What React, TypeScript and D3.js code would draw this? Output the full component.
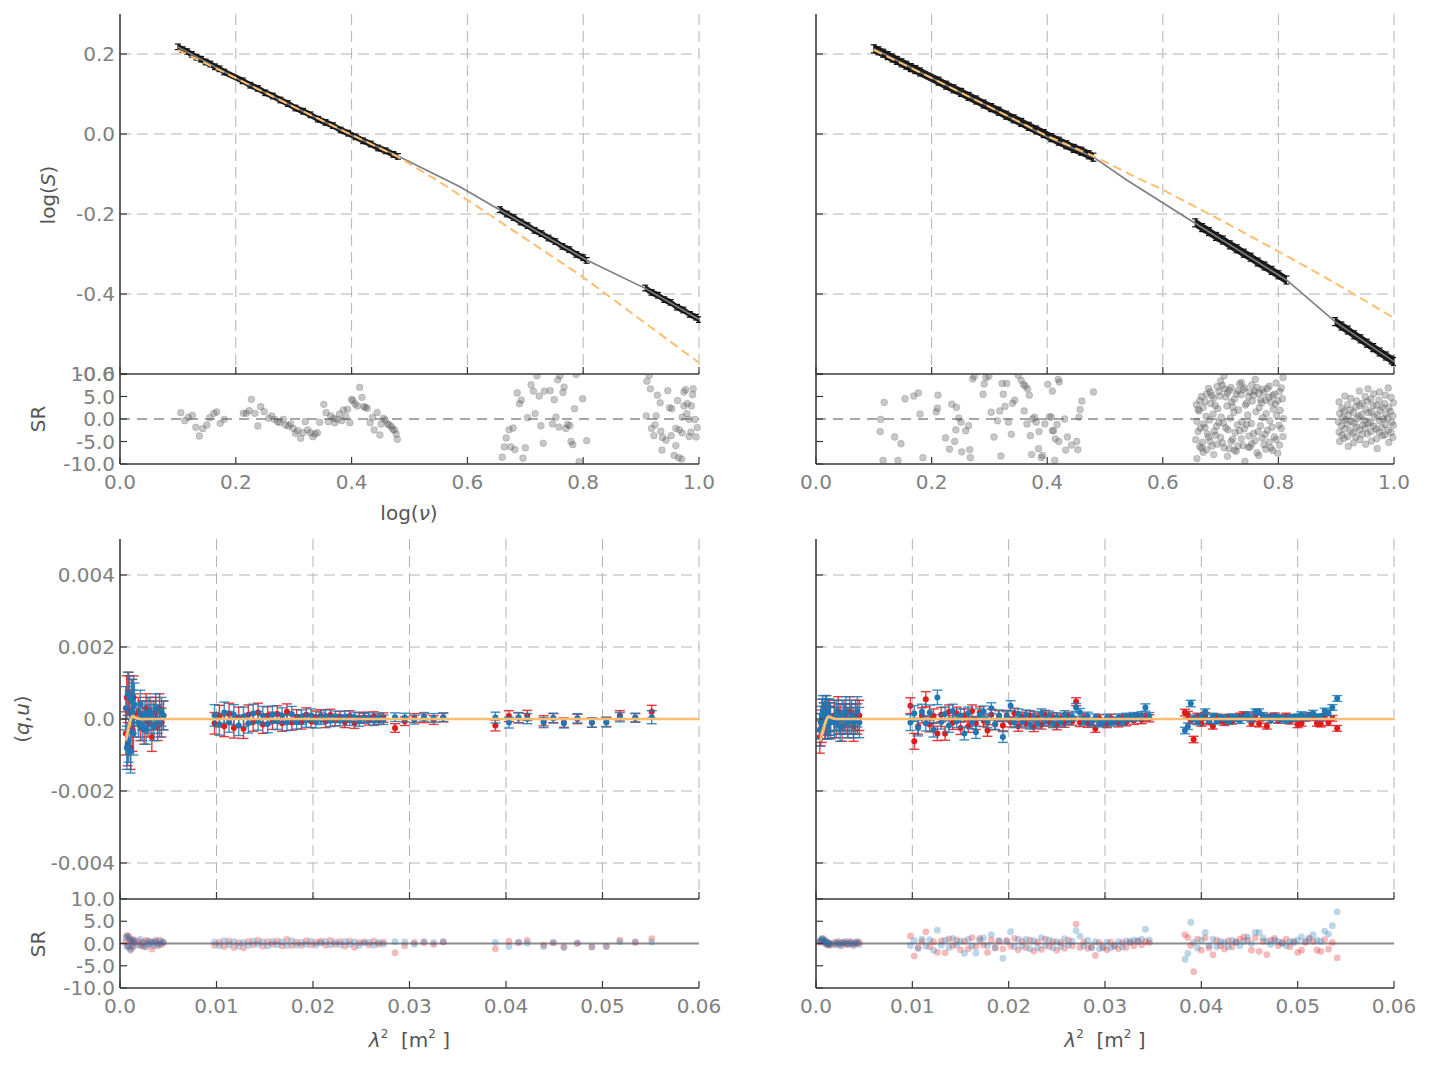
import * as d3 from 'd3';

// ---------- axis ticks ----------
const nuTicks = [0, 0.2, 0.4, 0.6, 0.8, 1.0];
const nuTickLabels = ['0.0', '0.2', '0.4', '0.6', '0.8', '1.0'];
const logSTicks = [0.2, 0.0, -0.2, -0.4, -0.6];
const logSTickLabels = ['0.2', '0.0', '-0.2', '-0.4', '-0.6'];
const srTicks = [10, 5, 0, -5, -10];
const srTickLabels = ['10.0', '5.0', '0.0', '-5.0', '-10.0'];
const lam2Ticks = [0, 0.01, 0.02, 0.03, 0.04, 0.05, 0.06];
const lam2TickLabels = ['0.0', '0.01', '0.02', '0.03', '0.04', '0.05', '0.06'];
const quTicks = [0.004, 0.002, 0, -0.002, -0.004];
const quTickLabels = ['0.004', '0.002', '0.0', '-0.002', '-0.004'];

// ---------- Stokes I spectrum, left fit ----------
const nuFluxL = [0.100, 0.108, 0.116, 0.124, 0.132, 0.140, 0.148, 0.156, 0.164, 0.172, 0.180,
  0.212, 0.225, 0.238, 0.251, 0.264, 0.277, 0.290, 0.303, 0.316, 0.329, 0.342, 0.355, 0.368, 0.381, 0.394, 0.407, 0.420, 0.433, 0.446, 0.459, 0.472, 0.480,
  0.656, 0.668, 0.680, 0.692, 0.704, 0.716, 0.728, 0.740, 0.752, 0.764, 0.776, 0.788, 0.800, 0.806,
  0.907, 0.918, 0.929, 0.940, 0.951, 0.962, 0.973, 0.984, 0.995, 1.000];
const logSFluxL = [0.218, 0.211, 0.206, 0.199, 0.192, 0.187, 0.180, 0.175, 0.168, 0.163, 0.155,
  0.133, 0.122, 0.114, 0.103, 0.095, 0.085, 0.076, 0.065, 0.057, 0.048, 0.037, 0.029, 0.021, 0.010, 0.002, -0.007, -0.017, -0.025, -0.035, -0.042, -0.051, -0.056,
  -0.189, -0.200, -0.209, -0.220, -0.229, -0.241, -0.249, -0.260, -0.269, -0.281, -0.289, -0.301, -0.309, -0.316,
  -0.385, -0.396, -0.403, -0.414, -0.421, -0.433, -0.440, -0.451, -0.458, -0.464];
const errFluxL = 0.007;
const modelNuL = [0.1, 0.2, 0.3, 0.4, 0.48, 0.587, 0.656, 0.806, 0.907, 1.0];
const modelLogSL = [0.2175, 0.14, 0.068, -0.003, -0.055, -0.132, -0.19, -0.315, -0.386, -0.463];
const altNuL = [0.1, 0.2, 0.3, 0.4, 0.48, 0.55, 0.622, 0.8, 1.0];
const altLogSL = [0.21, 0.14, 0.068, -0.002, -0.057, -0.118, -0.186, -0.358, -0.572];

const resL1: [number, number][] = [
  [0.105, 1.41], [0.112, -0.37], [0.118, 0.37], [0.125, 0.81], [0.131, -1.85], [0.137, -3.78], [0.143, -2.15], [0.150, -1.33],
  [0.155, 0.30], [0.162, 1.26], [0.167, 1.56], [0.173, -0.96], [0.180, -0.07],
  [0.213, 1.26], [0.218, 1.26], [0.223, 1.85], [0.227, 4.37], [0.233, 1.26], [0.238, -1.56], [0.243, 2.74], [0.249, 1.63],
  [0.257, 0.15], [0.262, 0.67], [0.267, -0.07], [0.272, -0.59], [0.276, -0.81], [0.282, -0.07], [0.286, -1.33], [0.291, -1.56],
  [0.295, -1.11], [0.299, -2.07], [0.303, -3.19], [0.307, -2.59], [0.312, -4.30], [0.316, -3.04], [0.320, -0.59], [0.324, -2.44],
  [0.329, -3.04], [0.333, -3.93], [0.337, -3.33], [0.341, -3.04], [0.345, -0.74],
  [0.352, 3.26], [0.356, 1.41], [0.360, -0.59], [0.364, 0.67], [0.369, 0.15], [0.371, -0.81], [0.375, -0.07], [0.379, 1.11],
  [0.383, -0.37], [0.386, 2.00], [0.390, 0.52], [0.393, 2.15], [0.397, -0.81],
  [0.400, 4.37], [0.402, 4.07], [0.406, 3.33], [0.410, 2.89], [0.414, 7.04], [0.418, 4.81], [0.421, 2.74], [0.424, 2.59],
  [0.427, 2.37], [0.432, -0.81], [0.436, 0.37], [0.439, -2.44], [0.444, 1.41], [0.449, -3.56], [0.451, -1.11], [0.455, 0.15],
  [0.458, -0.22], [0.462, -1.11], [0.465, -1.33], [0.469, -1.70], [0.471, -2.30], [0.474, -2.44], [0.477, -3.33], [0.479, -4.52],
];
const resL2: [number, number][] = [
  [0.720, 9.6], [0.760, 9.6], [0.788, 9.9], [0.710, 7.6], [0.686, 5.8], [0.714, 6.2], [0.724, 5.1], [0.733, 6.2], [0.743, 6.3],
  [0.750, 4.3], [0.756, 8.7], [0.765, 5.9], [0.767, 7.1], [0.690, 3.4], [0.693, 4.2], [0.799, 4.5], [0.785, 2.3], [0.704, 0.3],
  [0.717, 1.2], [0.753, 0.4], [0.672, -2.4], [0.679, -2.0], [0.727, -1.5], [0.747, -1.1], [0.758, -1.8], [0.770, -2.1],
  [0.773, -1.2], [0.777, -1.5], [0.667, -4.2], [0.779, -5.0], [0.782, -5.7], [0.806, -4.8], [0.731, -5.4], [0.664, -6.2],
  [0.675, -6.2], [0.682, -6.8], [0.700, -6.4], [0.660, -8.5], [0.696, -8.7], [0.793, -9.5],
];
const resL3: [number, number][] = [
  [0.914, 9.7], [0.910, 8.4], [0.916, 6.7], [0.928, 5.3], [0.933, 3.6], [0.946, 6.3], [0.963, 4.1], [0.974, 6.0], [0.977, 6.5],
  [0.990, 6.7], [0.989, 5.4], [0.949, 2.5], [0.953, 2.3], [0.974, 2.9], [0.980, 3.4], [0.987, 2.9], [0.979, 1.2], [0.909, 0.7],
  [0.926, 0.7], [0.971, 0.4], [0.983, -0.1], [0.993, -0.1], [0.918, -2.1], [0.924, -1.3], [0.934, -2.7], [0.960, -2.1],
  [0.966, -2.4], [0.971, -3.1], [0.986, -2.9], [0.997, -1.9], [0.922, -3.7], [0.937, -4.1], [0.943, -4.7], [0.952, -3.7],
  [0.983, -3.9], [0.995, -4.0], [0.936, -6.9], [0.960, -5.9], [0.957, -8.1], [0.965, -8.6], [0.970, -8.9],
];

// ---------- Stokes I spectrum, right fit ----------
const nuFluxR = [0.100, 0.108, 0.116, 0.124, 0.132, 0.140, 0.148, 0.156, 0.164, 0.172, 0.180,
  0.212, 0.225, 0.238, 0.251, 0.264, 0.277, 0.290, 0.303, 0.316, 0.329, 0.342, 0.355, 0.368, 0.381, 0.394, 0.407, 0.420, 0.433, 0.446, 0.459, 0.472, 0.480,
  0.656, 0.668, 0.680, 0.692, 0.704, 0.716, 0.728, 0.740, 0.752, 0.764, 0.776, 0.788, 0.800, 0.814,
  0.898, 0.909, 0.920, 0.931, 0.942, 0.953, 0.964, 0.975, 0.986, 0.996, 1.000];
const logSFluxR = [0.213, 0.208, 0.202, 0.196, 0.190, 0.184, 0.178, 0.172, 0.166, 0.161, 0.155,
  0.132, 0.122, 0.113, 0.104, 0.094, 0.085, 0.075, 0.066, 0.057, 0.047, 0.038, 0.029, 0.019, 0.010, 0.001, -0.009, -0.018, -0.027, -0.036, -0.043, -0.052, -0.058,
  -0.222, -0.234, -0.244, -0.256, -0.265, -0.277, -0.287, -0.298, -0.308, -0.320, -0.330, -0.341, -0.352, -0.365,
  -0.469, -0.480, -0.490, -0.502, -0.512, -0.523, -0.534, -0.545, -0.555, -0.565, -0.569];
const errFluxR = 0.01;
const modelNuR = [0.1, 0.2, 0.3, 0.4, 0.48, 0.5375, 0.656, 0.814, 0.898, 1.0];
const modelLogSR = [0.213, 0.14, 0.068, -0.007, -0.058, -0.115, -0.223, -0.365, -0.469, -0.569];
const altNuR = [0.1, 0.2, 0.3, 0.4, 0.48, 0.549, 0.601, 0.70, 0.803, 0.895, 1.0];
const altLogSR = [0.21, 0.14, 0.068, -0.005, -0.055, -0.105, -0.14, -0.215, -0.296, -0.37, -0.46];

const resR1: [number, number][] = [
  [0.112, -0.1], [0.111, -2.8], [0.118, 3.7], [0.116, -9.2], [0.136, -4.0], [0.142, -9.2], [0.147, -5.5], [0.154, 4.5],
  [0.169, 5.1], [0.177, 5.8], [0.180, 1.1], [0.185, -8.6], [0.208, 1.6], [0.210, 2.4], [0.211, 5.3], [0.224, -4.2],
  [0.231, -6.7], [0.235, 3.3], [0.243, 2.6], [0.242, -2.4], [0.240, -5.0], [0.247, 0.2], [0.251, -0.7], [0.252, -7.3],
  [0.259, -2.6], [0.266, -6.8], [0.267, -8.6], [0.264, -1.5], [0.271, 8.9], [0.274, 9.5], [0.289, 5.5], [0.291, 7.8],
  [0.294, 9.2], [0.299, 9.5], [0.303, 1.5], [0.308, -4.0], [0.314, -0.4], [0.318, 1.8], [0.320, -8.2], [0.322, 7.9],
  [0.324, 5.5], [0.327, 2.8], [0.330, 7.9], [0.333, -0.7], [0.338, -3.4], [0.340, 3.5], [0.344, 4.2], [0.350, 9.7],
  [0.355, 8.6], [0.359, 7.7], [0.362, 7.3], [0.360, 1.8], [0.366, 6.7], [0.369, 5.3], [0.365, -1.1], [0.371, -3.7],
  [0.375, 0.0], [0.373, -7.9], [0.378, 0.4], [0.381, -0.7], [0.385, -6.6], [0.386, -2.8], [0.390, -8.6], [0.392, -8.1],
  [0.396, -1.1], [0.401, 7.7], [0.404, 0.5], [0.407, 0.4], [0.409, 6.2], [0.409, -2.6], [0.411, -2.6], [0.413, -9.2],
  [0.414, -4.4], [0.417, -1.2], [0.419, 8.8], [0.420, -5.0], [0.421, 8.2], [0.430, 0.0], [0.432, -6.9], [0.435, -4.0],
  [0.442, -5.8], [0.451, -5.0], [0.453, -6.8], [0.455, 0.4], [0.457, 2.1], [0.460, 4.0], [0.480, 6.0],
];
const resR2: [number, number][] = [
  [0.658, 3.2], [0.659, -0.5], [0.657, -4.6], [0.659, -8.8], [0.664, 4.1], [0.663, 1.8], [0.665, -2.0], [0.664, -6.1],
  [0.670, 2.6], [0.671, -1.1], [0.669, -5.2], [0.670, -7.4], [0.676, 5.5], [0.675, 0.6], [0.677, -3.3], [0.676, -6.8],
  [0.682, 6.0], [0.683, 3.4], [0.681, -0.2], [0.682, -4.9], [0.688, 4.6], [0.687, 1.1], [0.689, -2.7], [0.688, -7.9],
  [0.694, 7.2], [0.695, 2.3], [0.693, -1.6], [0.694, -5.6], [0.700, 8.4], [0.699, 5.1], [0.701, 0.4], [0.700, -4.1],
  [0.706, 9.6], [0.707, 6.7], [0.705, -0.9], [0.706, -6.4], [0.712, 5.8], [0.711, 2.9], [0.713, -2.4], [0.712, -8.3],
  [0.718, 7.0], [0.719, 3.8], [0.717, 0.2], [0.718, -5.0], [0.724, 4.4], [0.723, 1.5], [0.725, -3.0], [0.724, -6.9],
  [0.730, 6.3], [0.731, 2.0], [0.729, -1.3], [0.730, -6.0], [0.736, 8.1], [0.735, 5.4], [0.737, -0.6], [0.736, -4.4],
  [0.742, 6.9], [0.743, 3.1], [0.741, -2.2], [0.742, -9.4], [0.748, 5.0], [0.747, 0.9], [0.749, -3.8], [0.748, -6.3],
  [0.754, 7.6], [0.755, 4.0], [0.753, -1.0], [0.754, -5.5], [0.760, 8.8], [0.759, 6.2], [0.761, 1.6], [0.760, -4.8],
  [0.766, 5.7], [0.767, 2.5], [0.765, -2.8], [0.766, -8.1], [0.772, 6.6], [0.771, 3.6], [0.773, 0.3], [0.772, -4.2],
  [0.778, 4.2], [0.779, 1.2], [0.777, -3.4], [0.778, -6.7], [0.784, 7.3], [0.783, 4.8], [0.785, -0.4], [0.784, -5.1],
  [0.790, 5.2], [0.791, 2.2], [0.789, -1.8], [0.790, -7.0], [0.796, 8.0], [0.795, 3.3], [0.797, 0.8], [0.796, -4.6],
  [0.802, 6.1], [0.803, 1.9], [0.801, -1.4], [0.802, -5.8], [0.808, 9.2], [0.807, 4.5], [0.809, 0.1], [0.808, -3.9],
  [0.661, 2.1], [0.661, -2.8], [0.667, 5.0], [0.667, -6.5], [0.673, 3.9], [0.673, -1.9], [0.679, 6.8], [0.679, -4.0],
  [0.685, 5.2], [0.685, -6.0], [0.691, 3.0], [0.691, -3.6], [0.697, 6.1], [0.697, -0.8], [0.703, 7.5], [0.703, -5.3],
  [0.709, 4.9], [0.709, -2.0], [0.715, 6.4], [0.715, -6.6], [0.721, 2.7], [0.721, -4.5], [0.727, 5.6], [0.727, -7.2],
  [0.733, 7.8], [0.733, -2.6], [0.739, 6.5], [0.739, -5.9], [0.745, 3.5], [0.745, -1.2], [0.751, 6.0], [0.751, -6.2],
  [0.757, 5.3], [0.757, -3.2], [0.763, 7.0], [0.763, -7.5], [0.769, 4.3], [0.769, -1.5], [0.775, 5.9], [0.775, -5.7],
  [0.781, 6.8], [0.781, -2.5], [0.787, 3.7], [0.787, -6.4], [0.793, 5.5], [0.793, -4.0], [0.799, 4.1], [0.799, -7.6],
  [0.805, 6.9], [0.805, -2.1],
];
const resR3: [number, number][] = [
  [0.905, 3.8], [0.906, 1.2], [0.904, -0.6], [0.905, -2.9], [0.906, -5.0],
  [0.910, 2.4], [0.911, 0.3], [0.909, -1.5], [0.910, -3.6],
  [0.915, 5.1], [0.914, 1.8], [0.916, -0.2], [0.915, -2.2], [0.914, -4.3],
  [0.920, 3.2], [0.921, 0.8], [0.919, -1.1], [0.920, -3.9], [0.921, -6.1],
  [0.925, 4.6], [0.924, 2.0], [0.926, -0.5], [0.925, -2.6],
  [0.930, 1.5], [0.931, -0.9], [0.929, -3.1], [0.930, -5.3],
  [0.935, 4.0], [0.934, 2.7], [0.936, 0.1], [0.935, -1.8], [0.934, -4.0],
  [0.940, 6.2], [0.941, 3.0], [0.939, 0.6], [0.940, -2.4], [0.941, -4.6],
  [0.945, 3.5], [0.944, 1.0], [0.946, -1.3], [0.945, -3.4],
  [0.950, 5.0], [0.951, 2.2], [0.949, -0.3], [0.950, -2.0], [0.951, -5.6],
  [0.955, 6.7], [0.954, 3.9], [0.956, 1.4], [0.955, -1.0], [0.954, -3.3],
  [0.960, 4.4], [0.961, 1.6], [0.959, -0.8], [0.960, -2.8], [0.961, -4.9],
  [0.965, 5.6], [0.964, 2.9], [0.966, 0.4], [0.965, -1.6],
  [0.970, 3.1], [0.971, 0.9], [0.969, -2.2], [0.970, -4.4], [0.971, -6.6],
  [0.975, 6.0], [0.974, 4.2], [0.976, 1.9], [0.975, -0.4], [0.974, -2.9],
  [0.980, 2.6], [0.981, 0.0], [0.979, -1.9], [0.980, -3.7],
  [0.985, 5.3], [0.984, 3.4], [0.986, 1.1], [0.985, -1.2], [0.984, -3.5],
  [0.990, 6.9], [0.991, 2.5], [0.989, 0.2], [0.990, -2.5], [0.991, -5.2],
  [0.995, 4.8], [0.994, 1.7], [0.996, -0.7], [0.995, -3.0],
  [0.999, 3.6], [0.998, 0.7], [0.999, -1.4], [0.998, -4.1],
];

// ---------- Stokes q, u against lambda^2, left fit ----------
const lam2AL = [0.0006, 0.0007, 0.0008, 0.0009, 0.0010, 0.0011, 0.0012, 0.0013, 0.0014, 0.0015,
  0.0019, 0.0021, 0.0023, 0.0025, 0.0027, 0.0029, 0.0031, 0.0033, 0.0035, 0.0037, 0.0039, 0.0041, 0.0043, 0.0045];
const qAL = [-0.0004, 0.0006, -0.0007, 0.0007, 0.0002, -0.0008, 0.0005, -0.0003, 0.0006, 0.0001,
  0.0002, -0.0002, 0.0001, -0.0003, 0.0003, -0.0001, 0.0002, -0.0005, 0.0001, 0.0002, -0.0002, 0.0003, -0.0001, 0.0001];
const uAL = [0.0003, -0.0008, 0.0007, -0.0006, 0.0006, -0.0009, 0.0002, 0.0005, -0.0004, 0.0004,
  -0.0001, 0.0004, -0.0002, 0.0001, -0.0003, 0.0002, 0.0000, 0.0001, -0.0002, 0.0003, 0.0000, -0.0001, 0.0002, 0.0001];
const errAL = [0.0006, 0.0006, 0.0006, 0.0006, 0.0006, 0.0006, 0.0006, 0.0006, 0.0006, 0.0006,
  0.0004, 0.0004, 0.0004, 0.0004, 0.0004, 0.0004, 0.0004, 0.0004, 0.0004, 0.0004, 0.0004, 0.0004, 0.0004, 0.0004];
const qModelAL = [-0.00060, -0.00050, -0.00038, -0.00026, -0.00014, -0.00004, 0.00004, 0.00008, 0.00008, 0.00006,
  0.00001, 0, 0, 0, 0, 0, 0, 0, 0, 0, 0, 0, 0, 0];
const uModelAL = [-0.00048, -0.00038, -0.00027, -0.00016, -0.00006, 0.00002, 0.00006, 0.00007, 0.00005, 0.00003,
  0, 0, 0, 0, 0, 0, 0, 0, 0, 0, 0, 0, 0, 0];

const lam2BL = [0.0098, 0.0103, 0.0108, 0.0113, 0.0118, 0.0123, 0.0128, 0.0133, 0.0138, 0.0143,
  0.0148, 0.0153, 0.0158, 0.0163, 0.0168, 0.0173, 0.0178, 0.0183, 0.0188, 0.0193,
  0.0198, 0.0203, 0.0208, 0.0213, 0.0218, 0.0223, 0.0228, 0.0233, 0.0238, 0.0243,
  0.0248, 0.0253, 0.0258, 0.0263, 0.0268, 0.0273, 0.0285, 0.0295, 0.0305, 0.0315, 0.0325, 0.0335];
const qBL = [-0.00012, 0.00008, -0.00020, 0.00015, -0.00025, 0.00005, -0.00027, 0.00012, -0.00008, 0.00018,
  -0.00015, 0.00010, -0.00005, 0.00014, -0.00012, 0.00020, -0.00010, 0.00006, -0.00008, 0.00012,
  -0.00006, 0.00004, 0.00009, -0.00007, 0.00011, -0.00003, 0.00006, -0.00009, 0.00008, -0.00012,
  0.00003, 0.00005, -0.00004, 0.00007, -0.00002, 0.00004, -0.00025, -0.00006, 0.00003, 0.00002, -0.00003, 0.00004];
const uBL = [0.00010, -0.00015, 0.00018, -0.00008, 0.00012, -0.00018, 0.00006, -0.00012, 0.00015, -0.00005,
  0.00010, -0.00014, 0.00012, -0.00006, 0.00009, -0.00010, 0.00014, -0.00008, 0.00005, -0.00004,
  0.00010, -0.00007, 0.00002, 0.00008, -0.00005, 0.00006, -0.00004, 0.00007, -0.00003, 0.00005,
  -0.00006, 0.00002, 0.00004, -0.00005, 0.00003, -0.00002, 0.00005, 0.00004, -0.00002, 0.00006, 0.00003, 0.00005];
const errBL = [0.00030, 0.00030, 0.00029, 0.00029, 0.00028, 0.00028, 0.00027, 0.00027, 0.00026, 0.00026,
  0.00025, 0.00024, 0.00024, 0.00023, 0.00022, 0.00022, 0.00021, 0.00020, 0.00020, 0.00019,
  0.00018, 0.00018, 0.00017, 0.00017, 0.00016, 0.00016, 0.00015, 0.00015, 0.00015, 0.00014,
  0.00014, 0.00014, 0.00013, 0.00013, 0.00013, 0.00013, 0.00012, 0.00012, 0.00012, 0.00012, 0.00012, 0.00012];

const lam2CL = [0.0389, 0.0403, 0.0413, 0.0422, 0.0439, 0.0449, 0.0460, 0.0474, 0.0489, 0.0504, 0.0518, 0.0534, 0.0551];
const qCL = [-0.00018, 0.00008, 0.00003, 0.00010, -0.00005, 0.00002, -0.00010, 0.00000, -0.00010, -0.00008, 0.00010, 0.00003, 0.00020];
const uCL = [0.00004, -0.00010, 0.00004, 0.00001, -0.00010, 0.00003, -0.00012, 0.00002, -0.00010, -0.00009, 0.00005, 0.00004, 0.00005];
const errCL = [0.00015, 0.00015, 0.00014, 0.00014, 0.00014, 0.00013, 0.00013, 0.00013, 0.00013, 0.00013, 0.00013, 0.00012, 0.00018];

// ---------- Stokes q, u against lambda^2, right fit ----------
const lam2AR = [0.0004, 0.0005, 0.0006, 0.0007, 0.0008, 0.0009, 0.0010, 0.0011, 0.0012, 0.0013, 0.0014, 0.0015,
  0.0019, 0.0021, 0.0023, 0.0025, 0.0027, 0.0029, 0.0031, 0.0033, 0.0035, 0.0037, 0.0039, 0.0041, 0.0043, 0.0045];
const qAR = [-0.0005, -0.0003, -0.0002, 0.0001, 0.0000, -0.0001, 0.0002, 0.0000, -0.0001, 0.0001, 0.0000, -0.0001,
  0.0001, -0.0001, 0.0002, 0.0000, -0.0002, 0.0001, 0.0000, -0.0001, 0.0002, 0.0000, -0.0002, 0.0001, 0.0000, 0.0001];
const uAR = [-0.0003, -0.0001, 0.0001, 0.0002, 0.0000, 0.0001, -0.0001, 0.0002, 0.0001, -0.0001, 0.0001, 0.0000,
  -0.0001, 0.0001, 0.0000, -0.0002, 0.0001, 0.0000, 0.0002, -0.0001, 0.0000, 0.0001, -0.0001, 0.0000, 0.0002, -0.0001];
const errAR = [0.00045, 0.00045, 0.00045, 0.00045, 0.00045, 0.00045, 0.00045, 0.00045, 0.00045, 0.00045, 0.00045, 0.00045,
  0.00042, 0.00042, 0.00042, 0.00042, 0.00042, 0.00042, 0.00042, 0.00042, 0.00042, 0.00042, 0.00042, 0.00042, 0.00042, 0.00042];
const qModelAR = [-0.00062, -0.00055, -0.00047, -0.00038, -0.00028, -0.00018, -0.00009, -0.00001, 0.00004, 0.00007, 0.00007, 0.00005,
  0.00001, 0, 0, 0, 0, 0, 0, 0, 0, 0, 0, 0, 0, 0];
const uModelAR = [-0.00050, -0.00044, -0.00036, -0.00028, -0.00020, -0.00012, -0.00005, 0.00001, 0.00004, 0.00005, 0.00004, 0.00003,
  0, 0, 0, 0, 0, 0, 0, 0, 0, 0, 0, 0, 0, 0];

const lam2BR = [0.0098, 0.0102, 0.0106, 0.0110, 0.0114, 0.0118, 0.0122, 0.0126, 0.0130, 0.0134,
  0.0138, 0.0142, 0.0146, 0.0150, 0.0154, 0.0158, 0.0162, 0.0166, 0.0170, 0.0174,
  0.0178, 0.0182, 0.0186, 0.0190, 0.0194, 0.0198, 0.0202, 0.0206, 0.0210, 0.0214,
  0.0218, 0.0222, 0.0226, 0.0230, 0.0234, 0.0238, 0.0242, 0.0246, 0.0250, 0.0254,
  0.0258, 0.0262, 0.0266, 0.0270, 0.0274, 0.0278, 0.0282, 0.0286, 0.0290, 0.0294,
  0.0298, 0.0302, 0.0306, 0.0310, 0.0314, 0.0318, 0.0322, 0.0326, 0.0330, 0.0334,
  0.0338, 0.0342, 0.0346];
const qBR = [0.00037, -0.00062, -0.00020, 0.00010, 0.00055, -0.00015, 0.00008, -0.00040, 0.00012, -0.00040,
  0.00020, -0.00010, 0.00015, -0.00025, 0.00010, -0.00020, 0.00022, -0.00012, 0.00018, -0.00005,
  -0.00032, 0.00012, -0.00015, 0.00008, -0.00018, 0.00010, -0.00008, 0.00016, -0.00020, 0.00006,
  -0.00012, 0.00010, -0.00022, 0.00004, -0.00016, 0.00012, -0.00008, 0.00005, -0.00018, 0.00002,
  -0.00012, 0.00008, -0.00006, 0.00048, -0.00010, 0.00004, -0.00012, -0.00008, -0.00027, 0.00002,
  -0.00010, -0.00014, 0.00003, -0.00006, -0.00012, 0.00002, -0.00009, 0.00004, -0.00005, 0.00006,
  -0.00003, 0.00005, 0.00002];
const uBR = [-0.00010, 0.00015, -0.00025, 0.00020, -0.00012, 0.00018, -0.00030, 0.00060, -0.00008, 0.00014,
  -0.00018, 0.00022, -0.00006, 0.00010, -0.00040, 0.00016, -0.00010, -0.00037, 0.00012, 0.00020,
  -0.00008, 0.00030, -0.00014, 0.00010, -0.00050, 0.00006, 0.00037, -0.00010, 0.00014, -0.00008,
  0.00012, -0.00015, 0.00008, -0.00012, 0.00016, -0.00006, 0.00010, -0.00012, 0.00005, -0.00008,
  0.00012, -0.00004, 0.00006, 0.00032, 0.00018, -0.00006, 0.00008, -0.00010, 0.00004, -0.00012,
  -0.00008, 0.00003, -0.00010, -0.00005, 0.00004, -0.00008, 0.00006, 0.00002, 0.00008, 0.00005,
  0.00010, 0.00032, 0.00008];
const errBR = [0.00022, 0.00022, 0.00022, 0.00021, 0.00021, 0.00021, 0.00020, 0.00020, 0.00020, 0.00019,
  0.00019, 0.00019, 0.00018, 0.00018, 0.00018, 0.00017, 0.00017, 0.00017, 0.00016, 0.00016,
  0.00016, 0.00015, 0.00015, 0.00015, 0.00015, 0.00014, 0.00014, 0.00014, 0.00014, 0.00013,
  0.00013, 0.00013, 0.00013, 0.00013, 0.00012, 0.00012, 0.00012, 0.00012, 0.00012, 0.00012,
  0.00011, 0.00011, 0.00011, 0.00011, 0.00011, 0.00011, 0.00011, 0.00010, 0.00010, 0.00010,
  0.00010, 0.00010, 0.00010, 0.00010, 0.00010, 0.00010, 0.00010, 0.00010, 0.00010, 0.00010,
  0.00010, 0.00010, 0.00010];

const lam2CR = [0.0383, 0.0386, 0.0389, 0.0392, 0.0396, 0.0400, 0.0404, 0.0408, 0.0412, 0.0416,
  0.0420, 0.0424, 0.0428, 0.0432, 0.0436, 0.0440, 0.0444, 0.0448, 0.0452, 0.0456,
  0.0460, 0.0464, 0.0468, 0.0472, 0.0476, 0.0480, 0.0484, 0.0488, 0.0492, 0.0496,
  0.0500, 0.0504, 0.0508, 0.0512, 0.0516, 0.0520, 0.0524, 0.0528, 0.0532, 0.0536, 0.0541];
const qCR = [0.00018, 0.00012, -0.00004, -0.00057, 0.00008, -0.00012, 0.00010, -0.00008, -0.00020, 0.00006,
  -0.00004, -0.00010, 0.00005, -0.00006, 0.00003, 0.00008, 0.00012, 0.00006, -0.00012, 0.00010,
  -0.00014, 0.00004, -0.00020, 0.00006, 0.00009, -0.00004, 0.00002, 0.00008, -0.00006, 0.00004,
  -0.00016, -0.00012, 0.00002, 0.00010, 0.00004, -0.00012, -0.00014, 0.00007, -0.00010, 0.00002, -0.00026];
const uCR = [-0.00032, -0.00020, 0.00043, 0.00002, -0.00008, 0.00006, 0.00020, -0.00004, 0.00008, -0.00006,
  0.00004, 0.00002, -0.00006, 0.00006, 0.00002, -0.00004, 0.00004, 0.00012, 0.00000, 0.00020,
  0.00020, 0.00010, 0.00004, -0.00002, 0.00006, 0.00004, 0.00000, -0.00004, 0.00004, 0.00002,
  0.00006, 0.00012, 0.00004, 0.00008, 0.00016, 0.00006, 0.00004, 0.00022, 0.00017, 0.00032, 0.00057];
const errCR = [0.00009, 0.00009, 0.00009, 0.00009, 0.00008, 0.00008, 0.00008, 0.00008, 0.00008, 0.00008,
  0.00008, 0.00008, 0.00008, 0.00008, 0.00008, 0.00008, 0.00008, 0.00008, 0.00008, 0.00008,
  0.00008, 0.00008, 0.00008, 0.00008, 0.00008, 0.00008, 0.00008, 0.00008, 0.00008, 0.00008,
  0.00008, 0.00008, 0.00008, 0.00008, 0.00008, 0.00008, 0.00008, 0.00008, 0.00008, 0.00008, 0.00008];

// ---------- styling ----------
const FONT = "'DejaVu Sans', sans-serif";
const LABEL = '#808080';
const TITLE = '#555555';
const SPINE = '#3a3a3a';
const GRID = '#b4b4b4';
const Q_RED = '#e31a1c';
const U_BLUE = '#1f78b4';
const FIT = '#fdbf6f';
const FS = 20;

const colL: [number, number] = [120, 699];
const colR: [number, number] = [816, 1394];
const topRows = { main: [374, 14], res: [464, 374] };
const botRows = { main: [899, 539], res: [988, 899] };

type Lin = d3.ScaleLinear<number, number>;

function Grid({ x, y, xt, yt }: { x: Lin; y: Lin; xt: number[]; yt: number[] }) {
  const [x0, x1] = x.range();
  const [yb, ytop] = y.range();
  return (
    <g stroke={GRID} strokeWidth={1} strokeDasharray="11,6" fill="none">
      {xt.filter((t) => x(t) > x0 + 1).map((t) => (
        <line key={'v' + t} x1={x(t)} x2={x(t)} y1={ytop} y2={yb} />
      ))}
      {yt.filter((t) => y(t) < yb - 1 && y(t) > ytop + 1).map((t) => (
        <line key={'h' + t} x1={x0} x2={x1} y1={y(t)} y2={y(t)} />
      ))}
    </g>
  );
}

function Frame({ x, y, xt, yt, ylab }: { x: Lin; y: Lin; xt: number[]; yt: number[]; ylab?: string[] }) {
  const [x0, x1] = x.range();
  const [yb, ytop] = y.range();
  return (
    <g>
      <g stroke={SPINE} strokeWidth={1.2}>
        {xt.map((t) => <line key={'xt' + t} x1={x(t)} x2={x(t)} y1={yb} y2={yb - 7} />)}
        {yt.map((t) => <line key={'yt' + t} x1={x0} x2={x0 + 7} y1={y(t)} y2={y(t)} />)}
      </g>
      <line x1={x0} x2={x0} y1={ytop} y2={yb} stroke={SPINE} strokeWidth={1.6} />
      <line x1={x0} x2={x1} y1={yb} y2={yb} stroke={SPINE} strokeWidth={1.6} />
      {ylab && yt.map((t, i) => (
        <text key={'yl' + t} x={x0 - 5} y={y(t)} dy="0.36em" textAnchor="end" fontSize={FS} fill={LABEL}>{ylab[i]}</text>
      ))}
    </g>
  );
}

function XLabels({ x, yb, ticks, labels }: { x: Lin; yb: number; ticks: number[]; labels: string[] }) {
  return (
    <g fontSize={FS} fill={LABEL} textAnchor="middle">
      {ticks.map((t, i) => <text key={'xl' + t} x={x(t)} y={yb + 25}>{labels[i]}</text>)}
    </g>
  );
}

// split sorted abscissae into runs separated by gaps
function runs(xs: number[], gap: number): number[][] {
  const out: number[][] = [];
  xs.forEach((v, i) => {
    if (i === 0 || v - xs[i - 1] > gap) out.push([]);
    out[out.length - 1].push(i);
  });
  return out;
}

function SpectrumPanel(props: {
  id: string; col: [number, number]; labels: boolean;
  nu: number[]; logS: number[]; err: number;
  mNu: number[]; mLogS: number[]; aNu: number[]; aLogS: number[];
  res: [number, number][];
}) {
  const { id, col, labels, nu, logS, err, mNu, mLogS, aNu, aLogS, res } = props;
  const x = d3.scaleLinear().domain([0, 1]).range(col);
  const y = d3.scaleLinear().domain([-0.6, 0.3]).range(topRows.main);
  const yr = d3.scaleLinear().domain([-10, 10]).range(topRows.res);
  const band = d3.area<number>().x((i) => x(nu[i])).y0((i) => y(logS[i] - err)).y1((i) => y(logS[i] + err));
  const model = d3.line<number>().x((i) => x(mNu[i])).y((i) => y(mLogS[i]));
  const alt = d3.line<number>().x((i) => x(aNu[i])).y((i) => y(aLogS[i]));
  return (
    <g>
      <defs>
        <clipPath id={id + 'm'}><rect x={col[0]} y={14} width={col[1] - col[0] + 2} height={360} /></clipPath>
        <clipPath id={id + 'r'}><rect x={col[0]} y={374} width={col[1] - col[0] + 4} height={90} /></clipPath>
      </defs>
      <Grid x={x} y={y} xt={nuTicks} yt={logSTicks} />
      <g clipPath={`url(#${id}m)`}>
        {runs(nu, 0.05).map((r, k) => (
          <path key={'b' + k} d={band(r) || ''} fill="#1c1c1c" stroke="#1c1c1c" strokeWidth={1} />
        ))}
        {nu.map((v, i) => (
          <g key={'e' + i} stroke="#111" strokeWidth={1.2}>
            <line x1={x(v) - 3} x2={x(v) + 3} y1={y(logS[i] + err)} y2={y(logS[i] + err)} />
            <line x1={x(v) - 3} x2={x(v) + 3} y1={y(logS[i] - err)} y2={y(logS[i] - err)} />
          </g>
        ))}
        <path d={model(d3.range(mNu.length)) || ''} fill="none" stroke="#7d7d7d" strokeWidth={1.6} />
        <path d={alt(d3.range(aNu.length)) || ''} fill="none" stroke={FIT} strokeWidth={2} strokeDasharray="9,5" />
      </g>
      <Frame x={x} y={y} xt={nuTicks} yt={logSTicks} ylab={labels ? logSTickLabels : undefined} />

      <line x1={col[0]} x2={col[1]} y1={yr(0)} y2={yr(0)} stroke="#8a8a8a" strokeWidth={1.6} strokeDasharray="10,7" />
      <g clipPath={`url(#${id}r)`} fill="#505050" fillOpacity={0.32} stroke="#505050" strokeOpacity={0.2}>
        {res.map(([v, s], i) => <circle key={'r' + i} cx={x(v)} cy={yr(s)} r={3.4} />)}
      </g>
      <Frame x={x} y={yr} xt={nuTicks} yt={srTicks} ylab={labels ? srTickLabels : undefined} />
      <XLabels x={x} yb={topRows.res[0]} ticks={nuTicks} labels={nuTickLabels} />
    </g>
  );
}

interface PolGroup { lam2: number[]; q: number[]; u: number[]; err: number[]; qModel?: number[]; uModel?: number[] }

function ErrorBars({ x, y, lam2, v, err, color }: { x: Lin; y: Lin; lam2: number[]; v: number[]; err: number[]; color: string }) {
  return (
    <g stroke={color} fill={color} strokeWidth={1.4} strokeOpacity={0.85}>
      {lam2.map((l, i) => {
        const cx = x(l);
        const top = y(v[i] + err[i]);
        const bot = y(v[i] - err[i]);
        return (
          <g key={i}>
            <line x1={cx} x2={cx} y1={top} y2={bot} />
            <line x1={cx - 5} x2={cx + 5} y1={top} y2={top} />
            <line x1={cx - 5} x2={cx + 5} y1={bot} y2={bot} />
            <circle cx={cx} cy={y(v[i])} r={3} stroke="none" />
          </g>
        );
      })}
    </g>
  );
}

function PolPanel({ id, col, labels, groups }: { id: string; col: [number, number]; labels: boolean; groups: PolGroup[] }) {
  const x = d3.scaleLinear().domain([0, 0.06]).range(col);
  const y = d3.scaleLinear().domain([-0.005, 0.005]).range(botRows.main);
  const yr = d3.scaleLinear().domain([-10, 10]).range(botRows.res);
  const lamEnd = x.domain()[1];
  const modelPts = (g: PolGroup, m: number[]): [number, number][] =>
    g.lam2.map((l, i) => [l, m[i]] as [number, number]).concat([[lamEnd, 0]]);
  const first = groups[0];
  const line = d3.line<[number, number]>().x((d) => x(d[0])).y((d) => y(d[1]));
  const resid = (g: PolGroup, key: 'q' | 'u') => {
    const m = key === 'q' ? g.qModel : g.uModel;
    return g.lam2.map((l, i) => [l, (g[key][i] - (m ? m[i] : 0)) / g.err[i]] as [number, number]);
  };
  return (
    <g>
      <defs>
        <clipPath id={id + 'm'}><rect x={col[0]} y={539} width={col[1] - col[0] + 2} height={360} /></clipPath>
        <clipPath id={id + 'r'}><rect x={col[0]} y={899} width={col[1] - col[0] + 4} height={89} /></clipPath>
      </defs>
      <Grid x={x} y={y} xt={lam2Ticks} yt={quTicks} />
      <g clipPath={`url(#${id}m)`}>
        {groups.map((g, k) => <ErrorBars key={'q' + k} x={x} y={y} lam2={g.lam2} v={g.q} err={g.err} color={Q_RED} />)}
        {groups.map((g, k) => <ErrorBars key={'u' + k} x={x} y={y} lam2={g.lam2} v={g.u} err={g.err} color={U_BLUE} />)}
        <path d={line(modelPts(first, first.uModel || [])) || ''} fill="none" stroke="#f7a85c" strokeWidth={2.2} strokeOpacity={0.9} />
        <path d={line(modelPts(first, first.qModel || [])) || ''} fill="none" stroke={FIT} strokeWidth={2.6} />
      </g>
      <Frame x={x} y={y} xt={lam2Ticks} yt={quTicks} ylab={labels ? quTickLabels : undefined} />

      <line x1={col[0]} x2={col[1]} y1={yr(0)} y2={yr(0)} stroke="#8c8c8c" strokeWidth={2} />
      <g clipPath={`url(#${id}r)`}>
        <g fill={Q_RED} fillOpacity={0.3}>
          {groups.flatMap((g, k) => resid(g, 'q').map(([l, s], i) => <circle key={`rq${k}-${i}`} cx={x(l)} cy={yr(s)} r={3.4} />))}
        </g>
        <g fill={U_BLUE} fillOpacity={0.3}>
          {groups.flatMap((g, k) => resid(g, 'u').map(([l, s], i) => <circle key={`ru${k}-${i}`} cx={x(l)} cy={yr(s)} r={3.4} />))}
        </g>
      </g>
      <Frame x={x} y={yr} xt={lam2Ticks} yt={srTicks} ylab={labels ? srTickLabels : undefined} />
      <XLabels x={x} yb={botRows.res[0]} ticks={lam2Ticks} labels={lam2TickLabels} />
      <text x={(col[0] + col[1]) / 2} y={1047} textAnchor="middle" fontSize={FS} fill={TITLE} style={{ whiteSpace: 'pre' }}>
        <tspan fontStyle="italic">λ</tspan>
        <tspan dy={-9} fontSize={12}>2</tspan>
        <tspan dy={9}>{'  [m'}</tspan>
        <tspan dy={-9} fontSize={12}>2</tspan>
        <tspan dy={9}>{' ]'}</tspan>
      </text>
    </g>
  );
}

export default function App() {
  const groupsL: PolGroup[] = [
    { lam2: lam2AL, q: qAL, u: uAL, err: errAL, qModel: qModelAL, uModel: uModelAL },
    { lam2: lam2BL, q: qBL, u: uBL, err: errBL },
    { lam2: lam2CL, q: qCL, u: uCL, err: errCL },
  ];
  const groupsR: PolGroup[] = [
    { lam2: lam2AR, q: qAR, u: uAR, err: errAR, qModel: qModelAR, uModel: uModelAR },
    { lam2: lam2BR, q: qBR, u: uBR, err: errBR },
    { lam2: lam2CR, q: qCR, u: uCR, err: errCR },
  ];
  return (
    <svg width={1432} height={1069} style={{ position: 'absolute', left: 0, top: 0, background: '#fff' }} fontFamily={FONT}>
      <SpectrumPanel id="sl" col={colL} labels nu={nuFluxL} logS={logSFluxL} err={errFluxL}
        mNu={modelNuL} mLogS={modelLogSL} aNu={altNuL} aLogS={altLogSL} res={[...resL1, ...resL2, ...resL3]} />
      <SpectrumPanel id="sr" col={colR} labels={false} nu={nuFluxR} logS={logSFluxR} err={errFluxR}
        mNu={modelNuR} mLogS={modelLogSR} aNu={altNuR} aLogS={altLogSR} res={[...resR1, ...resR2, ...resR3]} />
      <PolPanel id="pl" col={colL} labels groups={groupsL} />
      <PolPanel id="pr" col={colR} labels={false} groups={groupsR} />

      <g fontSize={FS} fill={TITLE} textAnchor="middle">
        <text transform="translate(55,195) rotate(-90)">log(<tspan fontStyle="italic">S</tspan>)</text>
        <text transform="translate(45,419) rotate(-90)">SR</text>
        <text x={409} y={520}>log(<tspan fontStyle="italic">ν</tspan>)</text>
        <text transform="translate(29,719) rotate(-90)">(<tspan fontStyle="italic">q</tspan>,<tspan fontStyle="italic">u</tspan>)</text>
        <text transform="translate(45,944) rotate(-90)">SR</text>
      </g>
    </svg>
  );
}
